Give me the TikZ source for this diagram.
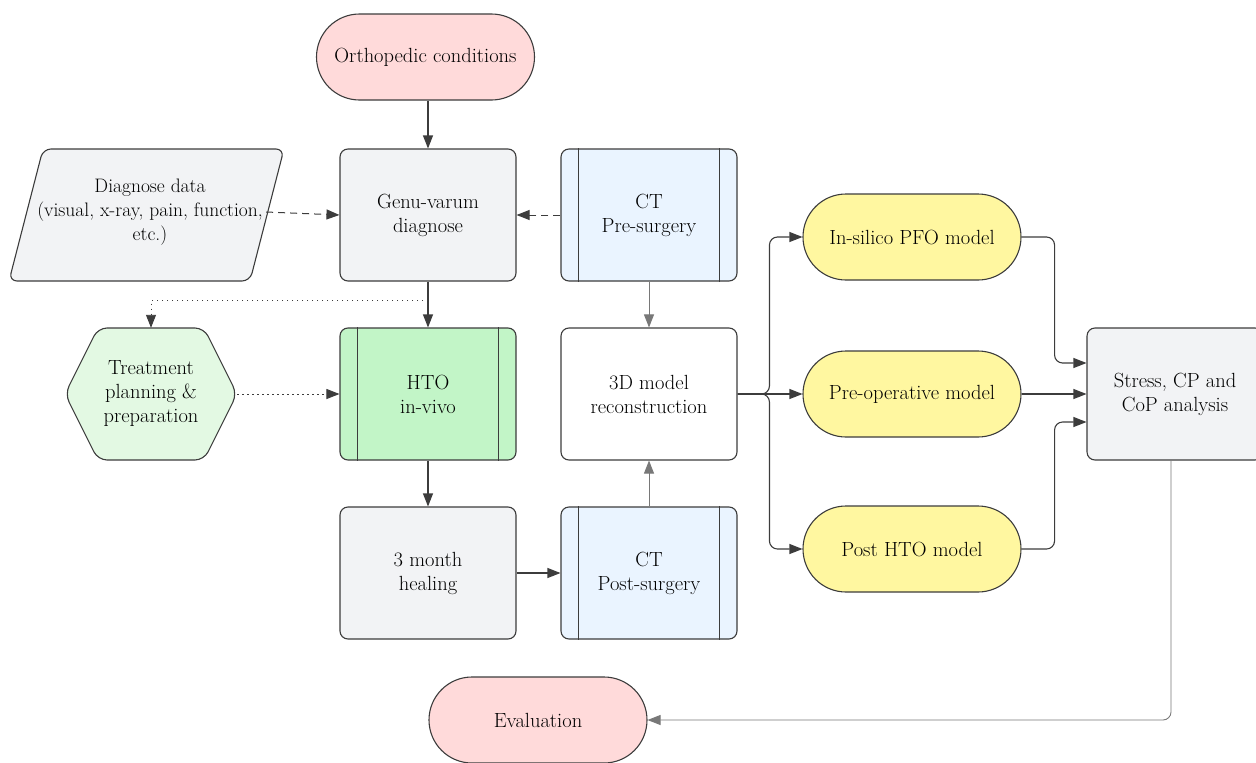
\documentclass[tikz,border=0pt]{standalone}
\usepackage{fontspec}
\usetikzlibrary{arrows.meta,calc}
\definecolor{lineC}{RGB}{60,60,60}
\definecolor{lightC}{RGB}{120,120,120}
\definecolor{pinkF}{RGB}{255,218,218}
\definecolor{grayF}{RGB}{242,243,245}
\definecolor{blueF}{RGB}{234,244,255}
\definecolor{greenF}{RGB}{194,245,199}
\definecolor{hexF}{RGB}{227,249,227}
\definecolor{yellowF}{RGB}{255,247,160}
\tikzset{
  base/.style={draw=lineC, line width=1.1pt, align=center, text=black,
    font=\fontsize{20.5}{24}\selectfont, inner sep=0pt},
  box/.style={base, rectangle, rounded corners=8pt, minimum width=176pt, minimum height=132pt},
  pill/.style={base, rectangle, rounded corners=43pt, minimum width=218pt, minimum height=86pt},
  plain/.style={align=center, text=black, font=\fontsize{20.5}{24}\selectfont, inner sep=0pt},
  arr/.style={draw=lineC, line width=1.1pt, -{Triangle[length=13pt,width=10pt]}},
  thinarr/.style={draw=lightC, line width=0.9pt, -{Triangle[length=13pt,width=10pt]}},
  dasharr/.style={arr, line width=1pt, dash pattern=on 7pt off 5pt},
  dotarr/.style={arr, line width=0.9pt, dash pattern=on 1.5pt off 3.5pt},
}
\newcommand{\subbars}[1]{%
  \draw[draw=lineC, line width=1.1pt] ($(#1.north west)+(18,0)$) -- ($(#1.south west)+(18,0)$);
  \draw[draw=lineC, line width=1.1pt] ($(#1.north east)+(-18,0)$) -- ($(#1.south east)+(-18,0)$);}
\begin{document}
\begin{tikzpicture}[x=1pt,y=-1pt]
\useasboundingbox (0,0) rectangle (1256,763);

% shapes drawn directly
\draw[draw=lineC, line width=1.1pt, fill=grayF, rounded corners=8pt]
  (43,149) -- (284,149) -- (250,281) -- (9,281) -- cycle;
\draw[draw=lineC, line width=1.1pt, fill=hexF, rounded corners=9pt]
  (65,394) -- (98,328) -- (204,328) -- (237,394) -- (204,460) -- (98,460) -- cycle;

% nodes
\node[pill, fill=pinkF] (ortho) at (425.5,57) {Orthopedic conditions};
\node[plain, font=\fontsize{19.5}{24}\selectfont, minimum width=232pt, minimum height=132pt] (data) at (150,212)
  {Diagnose data\\(visual, x-ray, pain, function,\\etc.)};
\node[box, fill=grayF] (genu) at (428,215) {Genu-varum\\diagnose};
\node[box, fill=blueF] (ctpre) at (649,215) {CT\\Pre-surgery};
\subbars{ctpre}
\node[plain, minimum width=172pt, minimum height=132pt] (treat) at (151,394)
  {Treatment\\planning \&\\preparation};
\node[box, fill=greenF] (hto) at (428,394) {HTO\\in-vivo};
\subbars{hto}
\node[box, fill=white] (recon) at (649,394) {3D model\\reconstruction};
\node[box, fill=grayF] (heal) at (428,573) {3 month\\healing};
\node[box, fill=blueF] (ctpost) at (649,573) {CT\\Post-surgery};
\subbars{ctpost}
\node[pill, fill=yellowF] (pfo) at (912,237) {In-silico PFO model};
\node[pill, fill=yellowF] (preop) at (912,394) {Pre-operative model};
\node[pill, fill=yellowF] (post) at (912,549) {Post HTO model};
\node[box, fill=grayF] (stress) at (1175,394) {Stress, CP and\\CoP analysis};
\node[pill, fill=pinkF] (eval) at (538,720) {Evaluation};

% connectors
\draw[arr] (ortho.south -| genu.north) -- (genu.north);
\draw[dasharr] (data.east) -- (genu.west);
\draw[dasharr] (ctpre.west) -- (genu.east);
\draw[arr] (genu) -- (hto);
\path (genu.south) ++(0,19) coordinate (split);
\draw[dotarr] (split) -| (treat.north);
\draw[dotarr] (treat.east) -- (hto.west);
\draw[thinarr] (ctpre) -- (recon);
\draw[arr] (hto) -- (heal);
\draw[arr] (heal) -- (ctpost);
\draw[thinarr] (ctpost) -- (recon);
\draw[arr] (recon.east) -- (preop.west);
\draw[arr, rounded corners=8pt] (recon.east) -| ($(pfo.west)+(-33,0)$) -- (pfo.west);
\draw[arr, rounded corners=8pt] (recon.east) -| ($(post.west)+(-33,0)$) -- (post.west);
\draw[arr, rounded corners=8pt] (pfo.east) -- ++(33,0) |- ($(stress.west)+(0,-31)$);
\draw[arr] (preop.east) -- (stress.west);
\draw[arr, rounded corners=8pt] (post.east) -- ++(33,0) |- ($(stress.west)+(0,28)$);
\draw[thinarr, rounded corners=8pt] ($(stress.south)+(-4,0)$) |- (eval.east);
\end{tikzpicture}
\end{document}
